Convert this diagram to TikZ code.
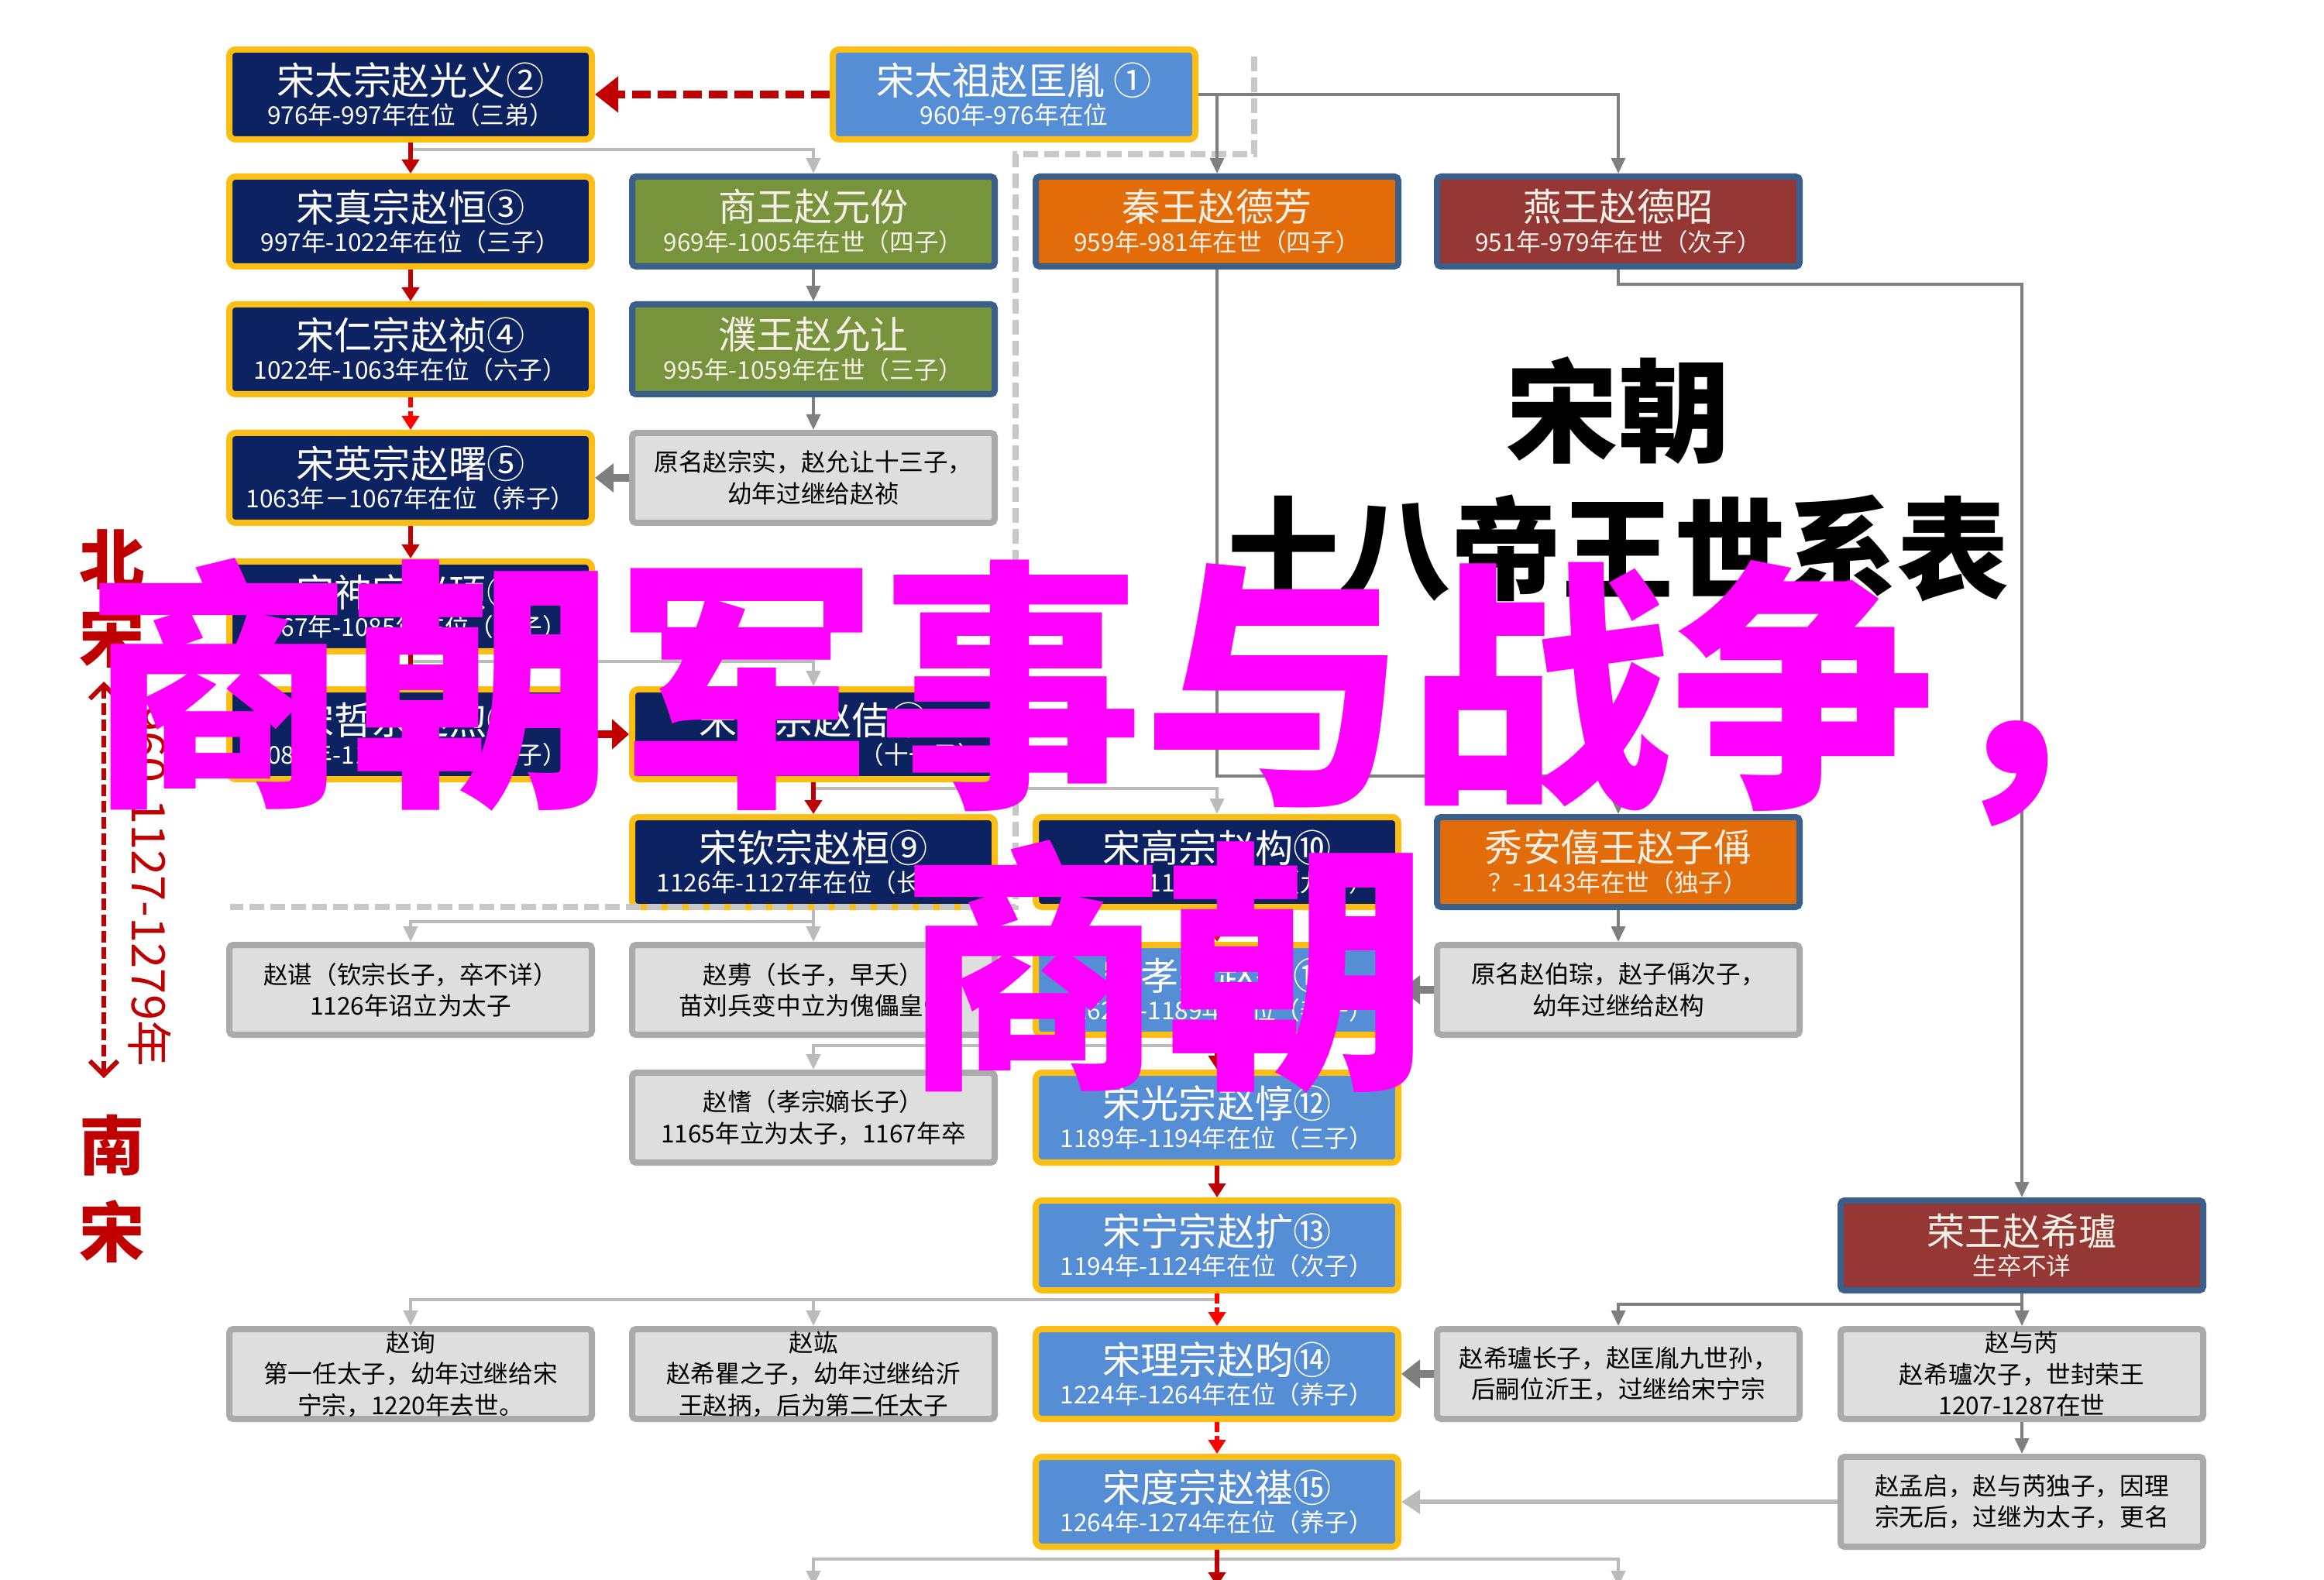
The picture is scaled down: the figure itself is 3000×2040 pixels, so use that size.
\documentclass[tikz,border=0pt]{standalone}
\usepackage{fontspec}
\setmainfont{Noto Sans CJK SC}
\usetikzlibrary{arrows.meta,
                positioning}

\definecolor{navyfill}{RGB}{13,34,96}
\definecolor{goldline}{RGB}{250,190,20}
\definecolor{skyfill}{RGB}{85,142,213}
\definecolor{princeline}{RGB}{58,95,139}
\definecolor{princetext}{RGB}{244,240,230}
\definecolor{greenfill}{RGB}{119,147,60}
\definecolor{orangefill}{RGB}{227,108,10}
\definecolor{winefill}{RGB}{149,55,53}
\definecolor{notefill}{RGB}{222,222,222}
\definecolor{noteline}{RGB}{170,170,170}
\definecolor{heirred}{RGB}{192,0,0}
\definecolor{adoptred}{RGB}{255,0,0}
\definecolor{linedark}{RGB}{127,127,127}
\definecolor{linelight}{RGB}{187,187,187}
\definecolor{borderdash}{RGB}{200,200,200}
\definecolor{sloganpink}{RGB}{255,0,255}

\newcommand{\reign}[1]{{\fontsize{9}{11}\selectfont #1}}

\tikzset{emperor-dark/.style =
   {rectangle,
    draw=goldline,
    fill=navyfill,
    line width=0.8mm,
    rounded corners=0.8mm,
    text=white,
    align=center,
    inner sep=0pt,
    minimum width=46.8mm,
    minimum height=11.6mm,
    font=\fontsize{14}{11}\selectfont}}
\tikzset{emperor-light/.style =
   {emperor-dark,
    fill=skyfill}}
\tikzset{prince/.style =
   {emperor-dark,
    draw=princeline,
    rounded corners=0.5mm,
    text=princetext}}
\tikzset{note-box/.style =
   {rectangle,
    draw=noteline,
    fill=notefill,
    line width=0.8mm,
    rounded corners=0.5mm,
    text=black,
    align=center,
    inner sep=0pt,
    minimum width=46.8mm,
    minimum height=11.6mm,
    font=\fontsize{9}{11.5}\selectfont}}
\tikzset{arrow-red/.style = {draw=heirred, line width=0.55mm, -{Triangle[length=1.8mm, width=2.2mm]}}}
\tikzset{arrow-adopt/.style = {arrow-red, draw=adoptred, dash pattern=on 1.3mm off 0.5mm}}
\tikzset{arrow-throne/.style = {draw=heirred, line width=1mm, dash pattern=on 2.4mm off 0.9mm, -{Triangle[length=3mm, width=4.5mm]}}}
\tikzset{arrow-brother/.style = {draw=heirred, line width=1mm, -{Triangle[length=2.2mm, width=3.8mm]}}}
\tikzset{arrow-gray/.style = {draw=linedark, line width=0.35mm, -{Triangle[length=2mm, width=1.8mm]}}}
\tikzset{arrow-light/.style = {draw=linelight, line width=0.45mm, -{Triangle[length=2mm, width=1.8mm]}}}
\tikzset{arrow-heir/.style = {draw=linedark, line width=1mm, -{Triangle[length=2.4mm, width=3.6mm]}}}
\tikzset{era-line/.style = {draw=borderdash, line width=0.8mm, dash pattern=on 1.9mm off 0.8mm}}
\tikzset{era-arrow/.style =
   {draw=heirred,
    line width=0.6mm,
    dash pattern=on 1.5mm off 0.6mm,
    {Straight Barb[length=1.8mm, width=3.6mm]}-{Straight Barb[length=1.8mm, width=3.6mm]}}}
\tikzset{era-text/.style = {text=heirred, align=center, inner sep=0pt, font=\bfseries\fontsize{24}{28.5}\selectfont}}
\tikzset{title-text/.style = {text=black, inner sep=0pt, font=\bfseries\fontsize{41}{41}\selectfont}}
\tikzset{slogan-text/.style = {text=sloganpink, anchor=west, inner sep=0pt, font=\bfseries\fontsize{97}{97}\selectfont}}

\begin{document}
\begin{tikzpicture}[x=0.1mm, y=-0.1mm]

    \useasboundingbox (0,0) rectangle (3000,2040);
    \clip (0,0) rectangle (3000,2040);
    \fill [white] (0,0) rectangle (3000,2040);

    % emperors
    \node [emperor-light] (taizu) at (1309,122) {宋太祖赵匡胤 ①\\\reign{960年-976年在位}};
    \node [emperor-dark] (taizong) at (530,122) {宋太宗赵光义②\\\reign{976年-997年在位（三弟）}};
    \node [emperor-dark] (zhenzong) at (530,286) {宋真宗赵恒③\\\reign{997年-1022年在位（三子）}};
    \node [emperor-dark] (renzong) at (530,451) {宋仁宗赵祯④\\\reign{1022年-1063年在位（六子）}};
    \node [emperor-dark] (yingzong) at (530,617) {宋英宗赵曙⑤\\\reign{1063年－1067年在位（养子）}};
    \node [emperor-dark] (shenzong) at (530,783) {宋神宗赵顼⑥\\\reign{1067年-1085年在位（长子）}};
    \node [emperor-dark] (zhezong) at (530,948) {宋哲宗赵煦⑦\\\reign{1085年-1100年在位（六子）}};
    \node [emperor-dark] (huizong) at (1050,948) {宋徽宗赵佶⑧\\\reign{1100年-1125年在位（十一子）}};
    \node [emperor-dark] (qinzong) at (1050,1113) {宋钦宗赵桓⑨\\\reign{1126年-1127年在位（长子）}};
    \node [emperor-dark] (gaozong) at (1571,1113) {宋高宗赵构⑩\\\reign{1127年-1162年在位（九子）}};
    \node [emperor-light] (xiaozong) at (1571,1278) {宋孝宗赵昚⑪\\\reign{1162年-1189年在位（养子）}};
    \node [emperor-light] (guangzong) at (1571,1443) {宋光宗赵惇⑫\\\reign{1189年-1194年在位（三子）}};
    \node [emperor-light] (ningzong) at (1571,1608) {宋宁宗赵扩⑬\\\reign{1194年-1124年在位（次子）}};
    \node [emperor-light] (lizong) at (1571,1774) {宋理宗赵昀⑭\\\reign{1224年-1264年在位（养子）}};
    \node [emperor-light] (duzong) at (1571,1939) {宋度宗赵禥⑮\\\reign{1264年-1274年在位（养子）}};

    % princes
    \node [prince, fill=greenfill] (shangwang) at (1050,286) {商王赵元份\\\reign{969年-1005年在世（四子）}};
    \node [prince, fill=greenfill] (puwang) at (1050,451) {濮王赵允让\\\reign{995年-1059年在世（三子）}};
    \node [prince, fill=orangefill] (qinwang) at (1571,286) {秦王赵德芳\\\reign{959年-981年在世（四子）}};
    \node [prince, fill=winefill] (yanwang) at (2089,286) {燕王赵德昭\\\reign{951年-979年在世（次子）}};
    \node [prince, fill=orangefill] (xiuan) at (2089,1113) {秀安僖王赵子偁\\\reign{？-1143年在世（独子）}};
    \node [prince, fill=winefill] (rongwang) at (2610,1608) {荣王赵希瓐\\\reign{生卒不详}};

    % notes
    \node [note-box] (note-zongshi) at (1050,617) {原名赵宗实，赵允让十三子，\\幼年过继给赵祯};
    \node [note-box] (note-zhaochen) at (530,1278) {赵谌（钦宗长子，卒不详）\\1126年诏立为太子};
    \node [note-box] (note-zhaofu) at (1050,1278) {赵旉（长子，早夭）\\苗刘兵变中立为傀儡皇帝};
    \node [note-box] (note-bocong) at (2089,1278) {原名赵伯琮，赵子偁次子，\\幼年过继给赵构};
    \node [note-box] (note-zhaoqi) at (1050,1443) {赵愭（孝宗嫡长子）\\1165年立为太子，1167年卒};
    \node [note-box] (note-zhaoxun) at (530,1774) {赵询\\第一任太子，幼年过继给宋\\宁宗，1220年去世。};
    \node [note-box] (note-zhaohong) at (1050,1774) {赵竑\\赵希瞿之子，幼年过继给沂\\王赵抦，后为第二任太子};
    \node [note-box] (note-yuju) at (2089,1774) {赵希瓐长子，赵匡胤九世孙，\\后嗣位沂王，过继给宋宁宗};
    \node [note-box] (note-yurui) at (2610,1774) {赵与芮\\赵希瓐次子，世封荣王\\1207-1287在世};
    \node [note-box] (note-mengqi) at (2610,1939) {赵孟启，赵与芮独子，因理\\宗无后，过继为太子，更名};

    % boundary between the two eras
    \draw [era-line] (1619,73) -- (1619,199) -- (1311,199) -- (1311,1171) -- (297,1171);

    % branches
    \draw [arrow-gray] (taizu.east) -| (yanwang.north);
    \draw [arrow-gray] (taizu.east -| qinwang.north) -- (qinwang.north);
    \draw [arrow-light] (taizong.south) -- ++(0,9) -| (shangwang.north);
    \draw [arrow-light] (shenzong.south) -- ++(0,9) -| (huizong.north);
    \draw [arrow-light] (huizong.south) -- ++(0,8) -| (gaozong.north);
    \draw [arrow-light] (qinzong.south) -- ++(0,15) -| (note-zhaochen.north);
    \draw [arrow-light] (qinzong) -- (note-zhaofu);
    \draw [arrow-light] (xiaozong.south) -- ++(0,10) -| (note-zhaoqi.north);
    \draw [arrow-light] (ningzong.south) -- ++(0,8) -| (note-zhaoxun.north);
    \draw [arrow-light] (ningzong.south) ++(0,8) -| (note-zhaohong.north);

    \draw [arrow-gray] (shangwang) -- (puwang);
    \draw [arrow-gray] (puwang) -- (note-zongshi);
    \draw [arrow-heir] (note-zongshi) -- (yingzong);
    \draw [arrow-gray] (qinwang.south) -- ++(0,654) -| (xiuan.north);
    \draw [arrow-gray] (xiuan) -- (note-bocong);
    \draw [arrow-heir] (note-bocong) -- (xiaozong);
    \draw [arrow-gray] (yanwang.south) -- ++(0,19) -| (rongwang.north);
    \draw [arrow-gray] (rongwang.south) -- ++(0,14) -| (note-yuju.north);
    \draw [arrow-gray] (rongwang) -- (note-yurui);
    \draw [arrow-gray] (note-yurui) -- (note-mengqi);
    \draw [arrow-heir] (note-yuju) -- (lizong);
    \draw [arrow-light, line width=0.55mm, -{Triangle[length=2.4mm, width=3mm]}] (note-mengqi) -- (duzong);

    % line of succession
    \draw [arrow-throne] (taizu) -- (taizong);
    \draw [arrow-red] (taizong) -- (zhenzong);
    \draw [arrow-red] (zhenzong) -- (renzong);
    \draw [arrow-adopt] (renzong) -- (yingzong);
    \draw [arrow-red] (yingzong) -- (shenzong);
    \draw [arrow-red] (shenzong) -- (zhezong);
    \draw [arrow-brother] (zhezong) -- (huizong);
    \draw [arrow-red] (huizong) -- (qinzong);
    \draw [arrow-adopt] (gaozong) -- (xiaozong);
    \draw [arrow-red] (xiaozong) -- (guangzong);
    \draw [arrow-red] (guangzong) -- (ningzong);
    \draw [arrow-adopt] (ningzong) -- (lizong);
    \draw [arrow-adopt] (lizong) -- (duzong);

    % going on below the page
    \coordinate (next-b) at (1050,2048);
    \coordinate (next-c) at (1571,2048);
    \coordinate (next-d) at (2089,2048);
    \draw [arrow-light] (duzong.south) -- ++(0,12) -| (next-b);
    \draw [arrow-light] (duzong.south) ++(0,12) -| (next-d);
    \draw [arrow-red] (duzong) -- (next-c);

    % eras on the left
    \node [era-text] (beisong) at (145,773) {北\\宋};
    \node [era-text, font=\bfseries\fontsize{24}{32}\selectfont] (nansong) at (145,1535) {南\\宋};
    \coordinate (era-start) at (134,880);
    \coordinate (era-end) at (134,1392);
    \draw [era-arrow] (era-start) -- (era-end);
    \node [text=heirred, rotate=-90, inner sep=0pt, font=\fontsize{17}{17}\selectfont] (years) at (193,1144) {960-1127-1279年};

    % title
    \node [title-text] (title-dynasty) at (2089,530) {宋朝};
    \node [title-text] (title-table) at (2089,708) {十八帝王世系表};

    % overlay
    \node [slogan-text] (slogan-a) at (111,894) {商朝军事与战争，};
    \node [slogan-text] (slogan-b) at (1163,1248) {商朝};

\end{tikzpicture}
\end{document}
